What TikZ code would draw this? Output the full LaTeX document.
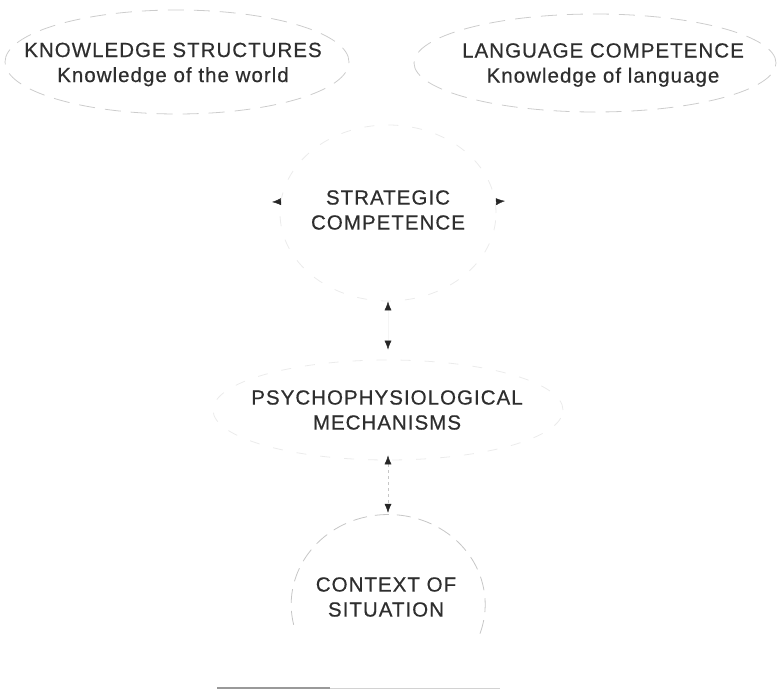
\documentclass[tikz,border=0pt]{standalone}
\usepackage{fontspec}
\setmainfont{Liberation Sans}[LetterSpace=5, FakeBold=0.5]
\usetikzlibrary{arrows.meta, shapes.geometric}
\tikzset{
  box text/.style = {align=center, text=black!82, inner sep=0pt,
                     font=\fontsize{20.5}{25}\selectfont},
  rim/.style      = {ellipse, inner sep=0pt, draw=gray!40, line width=0.8pt,
                     dash pattern=on 16pt off 10pt},
  faint rim/.style = {rim, draw=gray!16, dash pattern=on 10pt off 14pt},
  tip/.style      = {-{Latex[length=9pt, width=7pt, color=black!85]}},
  twin/.style     = {{Latex[length=9pt, width=7pt, color=black!85]}-{Latex[length=9pt, width=7pt, color=black!85]}}
}

\begin{document}
\begin{tikzpicture}[x=1pt, y=-1pt]
  \useasboundingbox (0,0) rectangle (781,692);

  % Knowledge components at the top
  \node (ks) [box text] at (173,64.5) {KNOWLEDGE STRUCTURES\\Knowledge of the world};
  \node (lc) [box text] at (603,65) {LANGUAGE COMPETENCE\\Knowledge of language};
  \node (ks rim) [rim, minimum width=344pt, minimum height=104pt] at (177,62) {};
  \node (lc rim) [rim, minimum width=362pt, minimum height=98pt] at (595,63) {};

  % Strategic competence
  \node (sc) [box text] at (388,210) {STRATEGIC\\COMPETENCE};
  \node (sc rim) [faint rim, minimum width=216pt, minimum height=176pt] at (388,213) {};
  \coordinate (to ks) at (272,202);
  \coordinate (to lc) at (505,201);
  \draw [tip, draw=gray!20] (sc rim.174) -- (to ks);
  \draw [tip, draw=gray!20] (sc rim.6) -- (to lc);

  % Psychophysiological mechanisms
  \node (pm) [box text] at (387,410) {PSYCHOPHYSIOLOGICAL\\MECHANISMS};
  \node (pm rim) [faint rim, minimum width=350pt, minimum height=100pt] at (388,410) {};
  \draw [twin, draw=gray!8] (sc rim.south) -- ([yshift=10pt]pm rim.north);

  % Context of situation
  \node (cs) [box text] at (386,597) {CONTEXT OF\\SITUATION};
  \node (cs rim) [ellipse, inner sep=0pt, minimum width=194pt, minimum height=180pt] at (388,603) {};
  \draw [draw=gray!45, line width=0.8pt, dash pattern=on 14pt off 8pt]
    (cs rim.193) arc [start angle=193, end angle=-20, x radius=97pt, y radius=90pt];
  \draw [twin, draw=gray!45, dashed] ([yshift=5pt]pm rim.south) -- (cs rim.north);

  % Rule under the figure
  \draw [gray!80, line width=1.2pt] (217,688) -- (330,688);
  \draw [gray!35, line width=1pt] (330,688) -- (500,688);
\end{tikzpicture}
\end{document}
